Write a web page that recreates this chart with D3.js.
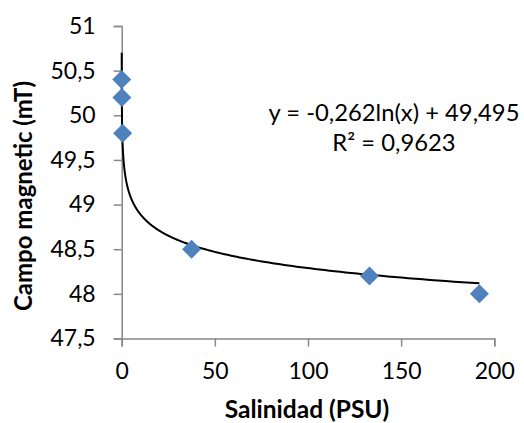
<!DOCTYPE html>
<html>
<head>
<meta charset="utf-8">
<script src="https://cdn.jsdelivr.net/npm/d3@7"></script>
<style>
  html, body { margin: 0; padding: 0; background: #fff; }
  svg { display: block; }
  text { font-family: Lato, "Liberation Sans", sans-serif; fill: #000; }
</style>
</head>
<body>
<svg id="chart" width="524" height="423"></svg>
<script>
// Data
const salinity = [0.01, 0.1, 0.5, 37.5, 133, 192];
const field = [50.4, 50.2, 49.8, 48.5, 48.2, 48.0];
const xTicks = [0, 50, 100, 150, 200];
const yTicks = [47.5, 48, 48.5, 49, 49.5, 50, 50.5, 51];
const trendSlope = -0.262;
const trendIntercept = 49.495;
const eqLine1 = "y = -0,262ln(x) + 49,495";
const eqLine2 = "R² = 0,9623";
const xTitle = "Salinidad (PSU)";
const yTitle = "Campo magnetic (mT)";

const svg = d3.select("#chart");
const x = d3.scaleLinear().domain([0, 200]).range([121.7, 494.3]);
const y = d3.scaleLinear().domain([47.5, 51]).range([338.5, 26]);
const fmt = d => String(d).replace(".", ",");
const axisColor = "#888888";

// Y axis
const gy = svg.append("g").attr("transform", `translate(${x(0)},0)`)
  .call(d3.axisLeft(y).tickValues(yTicks).tickFormat(fmt).tickSize(8).tickPadding(18));
gy.select(".domain").attr("stroke", axisColor).attr("stroke-width", 1.5);
gy.selectAll(".tick line").attr("stroke", axisColor).attr("stroke-width", 1.5);
gy.selectAll(".tick text").style("font-size", "23px").attr("fill", "#000");

// X axis
const gx = svg.append("g").attr("transform", `translate(0,${y(47.5)})`)
  .call(d3.axisBottom(x).tickValues(xTicks).tickFormat(fmt).tickSize(8).tickPadding(16));
gx.select(".domain").attr("stroke", axisColor).attr("stroke-width", 1.5);
gx.selectAll(".tick line").attr("stroke", axisColor).attr("stroke-width", 1.5);
gx.selectAll(".tick text").style("font-size", "23px").attr("fill", "#000");

// Trend line (logarithmic fit)
const xMin = d3.min(salinity), xMax = d3.max(salinity);
const trendPts = d3.range(0, 401).map(i => {
  const t = i / 400;
  const xv = Math.exp(Math.log(xMin) + t * (Math.log(xMax) - Math.log(xMin)));
  return [xv, trendSlope * Math.log(xv) + trendIntercept];
});
svg.append("path")
  .datum(trendPts)
  .attr("fill", "none")
  .attr("stroke", "#000")
  .attr("stroke-width", 2)
  .attr("d", d3.line().x(d => x(d[0])).y(d => y(d[1])));

// Points (diamonds)
const sym = d3.symbol().type(d3.symbolSquare).size(180);
svg.append("g").selectAll("path")
  .data(salinity.map((s, i) => [s, field[i]]))
  .join("path")
  .attr("d", sym)
  .attr("fill", "#4F81BD")
  .attr("transform", d => `translate(${x(d[0])},${y(d[1])}) rotate(45)`);

// Equation label
svg.append("text").attr("x", 394).attr("y", 121).attr("text-anchor", "middle")
  .style("font-size", "23.8px").text(eqLine1);
svg.append("text").attr("x", 394).attr("y", 151).attr("text-anchor", "middle")
  .style("font-size", "23.8px").text(eqLine2);

// Axis titles
svg.append("text").attr("x", 307).attr("y", 418).attr("text-anchor", "middle")
  .style("font-size", "24.5px").style("font-weight", "bold").text(xTitle);
svg.append("text").attr("transform", "translate(32,196) rotate(-90)").attr("text-anchor", "middle")
  .style("font-size", "24px").style("font-weight", "bold").text(yTitle);
</script>
</body>
</html>
